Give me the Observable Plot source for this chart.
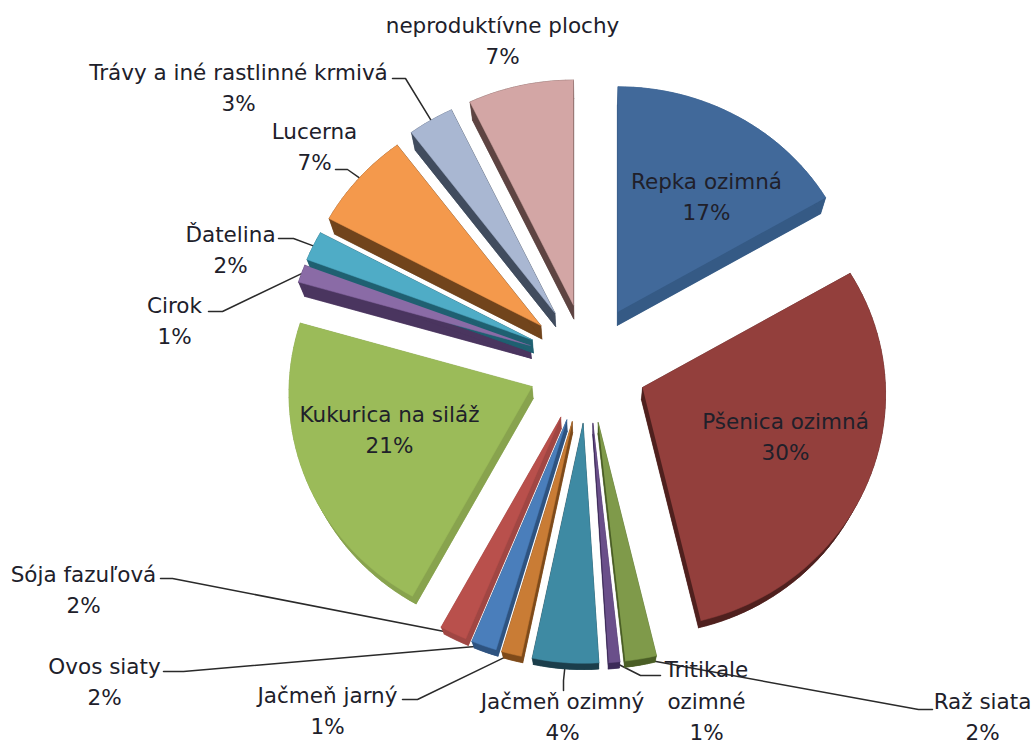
<!DOCTYPE html>
<html>
<head>
<meta charset="utf-8">
<script src="https://cdn.jsdelivr.net/npm/d3@7"></script>
<script src="https://cdn.jsdelivr.net/npm/@observablehq/plot@0.6"></script>
<style>
html,body{margin:0;padding:0;background:#fff}
svg{display:block}
</style>
</head>
<body>
<div id="chart"></div>
<script>
// Data, clockwise from 12 o'clock
const names = ["Repka ozimná","Pšenica ozimná","Raž siata","Tritikale ozimné","Jačmeň ozimný","Jačmeň jarný","Ovos siaty","Sója fazuľová","Kukurica na siláž","Cirok","Ďatelina","Lucerna","Trávy a iné rastlinné krmivá","neproduktívne plochy"];
const shares = [17.0,29.1,2.1,0.75,4.45,1.35,1.7,1.8,21.0,1.2,2.0,6.85,3.2,7.5];
const percentLabels = ["17%","30%","2%","1%","4%","1%","2%","2%","21%","1%","2%","7%","3%","7%"];
const labelTexts = ["Repka ozimná","Pšenica ozimná","Raž siata","Tritikale\nozimné","Jačmeň ozimný","Jačmeň jarný","Ovos siaty","Sója fazuľová","Kukurica na siláž","Cirok","Ďatelina","Lucerna","Trávy a iné rastlinné krmivá","neproduktívne plochy"];

// Styles
const topColors = ["#41699a","#933f3c","#7f9a4a","#6a4f8a","#3e8aa3","#c97c35","#4a7ebb","#b9504c","#9bbb59","#8a6ba6","#4facc6","#f4994c","#a9b7d2","#d3a6a5"];
const sideColors = ["#355a85","#4f201e","#4a5e25","#3c2a58","#1b3e4b","#7e4a1a","#2e5380","#a04643","#88a34e","#4a355f","#1f6071","#71441c","#414c5e","#5e4442"];

// Layout of the outside labels and leaders, in chart units
const labelAnchors = [[706,197],[785,437],[982,717],[706,701],[562,717],[327,711],[104,682],[83,590],[389,430],[174,321],[230,250],[314,147],[238,88],[502,41]];
const leaderStarts = [null,null,[[932,709],[918,709]],[[660,675],[640,675]],[[563,690],[563,680]],[[402,699],[417,699]],[[163,671],[183,671]],[[160,578],[172,578]],null,[[208,311],[222,311]],[[278,238],[293,238]],[[335,169],[347,169]],[[392,78],[405,78]],null];

const cx = 587, cy = 363, explode = 60, R = 232.5, persp = 0.032, bulge = 0.045;
const vanish = [587,960], extrude = 0.021;
const rad = d => d * Math.PI / 180;

let acc = 0;
const slices = names.map((name,i) => {
  const a0 = acc * 3.6; acc += shares[i]; const a1 = acc * 3.6;
  const mid = (a0 + a1) / 2;
  const tip = [cx + explode*Math.sin(rad(mid)), cy - explode*Math.cos(rad(mid))];
  const rim = a => {
    const c = Math.cos(rad(a)), s = Math.sin(rad(a)), f = 1 - persp*c + bulge*s*s;
    return [tip[0] + R*f*s, tip[1] - R*f*c];
  };
  const n = Math.max(2, Math.ceil((a1-a0)/2));
  const outline = [tip, ...d3.range(n+1).map(k => rim(a0 + (a1-a0)*k/n))];
  return {name, i, mid, tip, rim, outline};
});
const drop = p => [p[0] + extrude*(vanish[0]-p[0]), p[1] + extrude*(vanish[1]-p[1])];

const topRows = slices.flatMap(s => s.outline.map(p => ({id:s.name, x:p[0], y:p[1], c:topColors[s.i]})));
const sideRows = slices.flatMap(s => {
  const rows = [];
  s.outline.forEach((p,k) => {
    const q = s.outline[(k+1)%s.outline.length];
    [p,q,drop(q),drop(p)].forEach(v => rows.push({id:s.name+"-"+k, x:v[0], y:v[1], c:sideColors[s.i]}));
  });
  s.outline.forEach(p => { const v = drop(p); rows.push({id:s.name+"-base", x:v[0], y:v[1], c:sideColors[s.i]}); });
  return rows;
});
const leaderRows = slices.flatMap(s => {
  const st = leaderStarts[s.i];
  if (!st) return [];
  const end = s.rim(s.mid);
  return [...st, end].map(p => ({id:s.name, x:p[0], y:p[1]}));
});
const labelRows = slices.map(s => ({
  x: labelAnchors[s.i][0], y: labelAnchors[s.i][1] - 3,
  text: labelTexts[s.i] + "\n" + percentLabels[s.i]
}));

const chart = Plot.plot({
  width:1035, height:744, margin:0,
  x:{domain:[0,1035], range:[0,1035], axis:null},
  y:{domain:[0,744], range:[0,744], axis:null},
  color:{type:"identity"},
  style:{background:"#fff"},
  marks:[
    Plot.line(leaderRows,{x:"x",y:"y",z:"id",stroke:"#2a2a2a",strokeWidth:1.5,curve:"linear"}),
    Plot.line(sideRows,{x:"x",y:"y",z:"id",fill:"c",stroke:"c",strokeWidth:0.5,curve:"linear"}),
    Plot.line(topRows,{x:"x",y:"y",z:"id",fill:"c",stroke:"c",strokeWidth:0.5,curve:"linear"}),
    Plot.text(labelRows,{x:"x",y:"y",text:"text",fontSize:21.5,lineHeight:1.47,fontFamily:"'DejaVu Sans',sans-serif",fill:"#20202a"})
  ]
});
document.getElementById("chart").append(chart);
</script>
</body>
</html>
